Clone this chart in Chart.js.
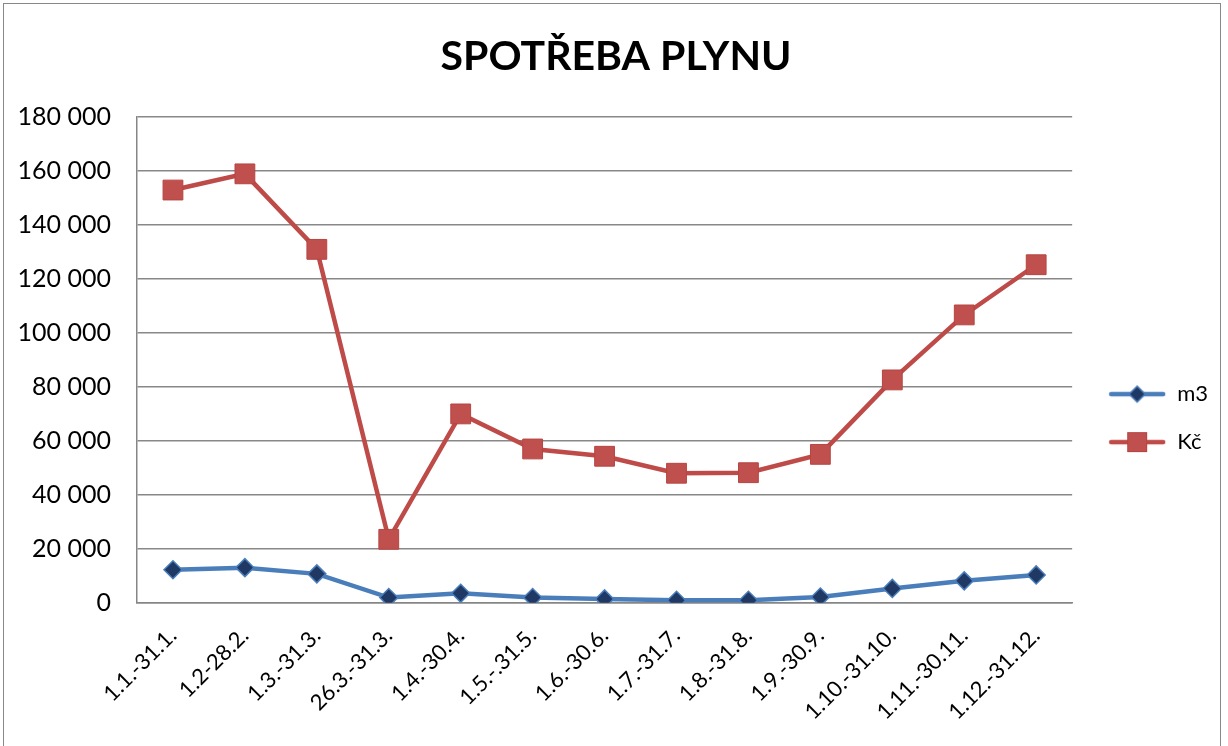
<!DOCTYPE html>
<html><head><meta charset="utf-8">
<script src="https://cdn.jsdelivr.net/npm/chart.js@4/dist/chart.umd.min.js"></script>
<style>
html,body{margin:0;padding:0;background:#fff;}
#wrap{position:absolute;left:0;top:0;width:1228px;height:746px;}
#frame{position:absolute;left:3px;top:3px;width:1218px;height:745px;border:1px solid #888;box-sizing:border-box;pointer-events:none;}
</style></head>
<body>
<div id="wrap"><canvas id="c" width="1228" height="746"></canvas></div>
<div id="frame"></div>
<script>
const categories = ["1.1.-31.1.","1.2-28.2.","1.3.-31.3.","26.3.-31.3.","1.4.-30.4.","1.5.-.31.5.","1.6.-30.6.","1.7.-31.7.","1.8.-31.8.","1.9.-30.9.","1.10.-31.10.","1.11.-30.11.","1.12.-31.12."];
const m3Values = [12200,13000,10700,1900,3500,1900,1400,900,900,2100,5300,8100,10300];
const kcValues = [153000,159000,131000,23500,70000,57000,54300,48000,48200,55000,82600,106700,125300];
const titleText = "SPOTŘEBA PLYNU";
const seriesNames = ["m3","Kč"];

const FONT = "Lato, 'Liberation Sans', sans-serif";

function legendIcon(kind){
  const cv = document.createElement('canvas');
  cv.width = 58; cv.height = 24;
  const g = cv.getContext('2d');
  g.lineCap = 'round';
  g.lineWidth = 4.5;
  g.strokeStyle = kind === 'm3' ? '#4A7EBB' : '#BE4B48';
  g.beginPath(); g.moveTo(3,12); g.lineTo(55,12); g.stroke();
  if (kind === 'm3') {
    g.fillStyle = '#1F3864'; g.strokeStyle = '#4A7EBB'; g.lineWidth = 1.5;
    g.beginPath(); g.moveTo(29,4); g.lineTo(37,12); g.lineTo(29,20); g.lineTo(21,12); g.closePath(); g.fill(); g.stroke();
  } else {
    g.fillStyle = '#C0504D'; g.strokeStyle = '#B64542'; g.lineWidth = 1;
    g.fillRect(19,2,20,20); g.strokeRect(19.5,2.5,19,19);
  }
  return cv;
}

new Chart(document.getElementById('c'), {
  type: 'line',
  data: {
    labels: categories,
    datasets: [
      { label: seriesNames[0], data: m3Values, borderColor: '#4A7EBB', borderWidth: 4.5,
        pointStyle: 'rectRot', pointRadius: 9, pointHoverRadius: 9, pointBackgroundColor: '#1F3864',
        pointBorderColor: '#4A7EBB', pointBorderWidth: 1.5, tension: 0, fill: false },
      { label: seriesNames[1], data: kcValues, borderColor: '#BE4B48', borderWidth: 4.5,
        pointStyle: 'rect', pointRadius: 14, pointHoverRadius: 14, pointBackgroundColor: '#C0504D',
        pointBorderColor: '#B64542', pointBorderWidth: 1, tension: 0, fill: false }
    ]
  },
  options: {
    responsive: false, animation: false, devicePixelRatio: 1,
    layout: { padding: { left: 14, right: 10, top: 20, bottom: 1 } },
    plugins: {
      title: { display: true, text: titleText, color: '#000',
        font: { family: FONT, size: 41, weight: 'bold' }, padding: { top: 12, bottom: 36 } },
      legend: { position: 'right', align: 'center',
        title: { display: true, text: ' ', font: { size: 1 }, padding: { top: 70, bottom: 0 } },
        labels: { usePointStyle: true, pointStyleWidth: 58, boxHeight: 24, color: '#000', font: { family: FONT, size: 22 }, padding: 26,
          generateLabels: (chart) => chart.data.datasets.map((ds, i) => ({
            text: ds.label, pointStyle: legendIcon(i === 0 ? 'm3' : 'kc'), fillStyle: 'transparent',
            strokeStyle: 'transparent', lineWidth: 0, datasetIndex: i, fontColor: '#000'
          }))
        } },
      tooltip: { enabled: false }
    },
    scales: {
      x: { offset: true,
        grid: { display: false, drawTicks: false },
        border: { color: '#868686', width: 1.5 },
        ticks: { color: '#000', font: { family: FONT, size: 22 }, maxRotation: 45, minRotation: 45, padding: 20, autoSkip: false } },
      y: { min: 0, max: 180000,
        afterFit: (s) => { s.width = 123; },
        grid: { color: '#888', lineWidth: 1.5, drawTicks: false },
        border: { color: '#868686', width: 1.5 },
        ticks: { stepSize: 20000, color: '#000', font: { family: FONT, size: 25 }, padding: 26,
          callback: (v) => v.toLocaleString('en-US').replace(/,/g, ' ') } },
      ySpacer: { position: 'right', display: true, min: 0, max: 1,
        afterFit: (s) => { s.width = 10; },
        grid: { display: false, drawTicks: false }, border: { display: false },
        ticks: { display: false } }
    }
  }
});
</script>
</body></html>
